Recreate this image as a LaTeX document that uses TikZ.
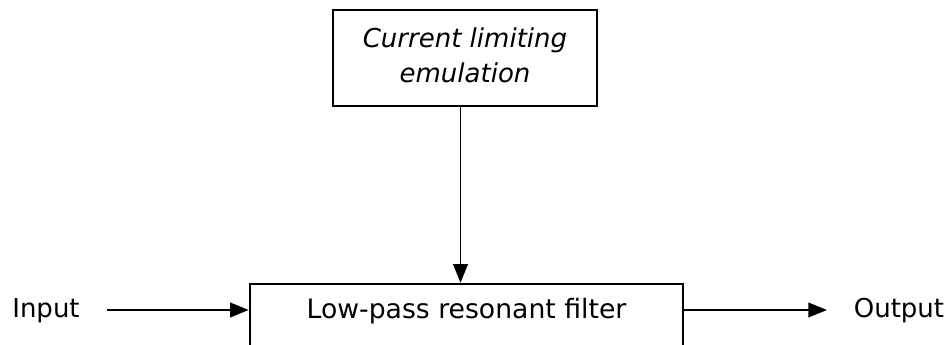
\documentclass[tikz,border=0pt]{standalone}
\usepackage{fontspec}
\setmainfont{DejaVu Sans}
\usetikzlibrary{arrows.meta}

\tikzset{
  block/.style={draw=black,line width=1.9pt,inner sep=0pt},
  label/.style={font=\fontsize{19.5}{26}\selectfont,align=center},
  flow/.style={black,line width=1.4pt,-{Triangle[length=14pt,width=11pt]}}
}

\begin{document}
\begin{tikzpicture}[x=0.75pt,y=-0.75pt]
  \useasboundingbox (0,0) rectangle (950,345);

  % Blocks
  \node[block,minimum width=264*0.75pt,minimum height=96*0.75pt] (emul) at (465,58) {};
  \node[label] (emultext) at (465,55) {\itshape Current limiting\\\itshape emulation};
  \node[block,minimum width=433*0.75pt,minimum height=120*0.75pt] (filter) at (466.5,344) {};
  \node[label,font=\fontsize{20}{26}\selectfont] (filtertext) at (466.5,311) {Low-pass resonant filter};

  % Inputs and outputs
  \node[label] (input) at (46,311) {Input};
  \node[label] (output) at (899,311) {Output};
  \coordinate (instart) at (107,310);
  \coordinate (outend) at (827,310);
  \coordinate (emulout) at (460.5,106);

  % Connections
  \draw[flow] (emulout) -- (emulout |- filter.north);
  \draw[flow] (instart) -- (instart -| filter.west);
  \draw[flow] (outend -| filter.east) -- (outend);

\end{tikzpicture}
\end{document}
